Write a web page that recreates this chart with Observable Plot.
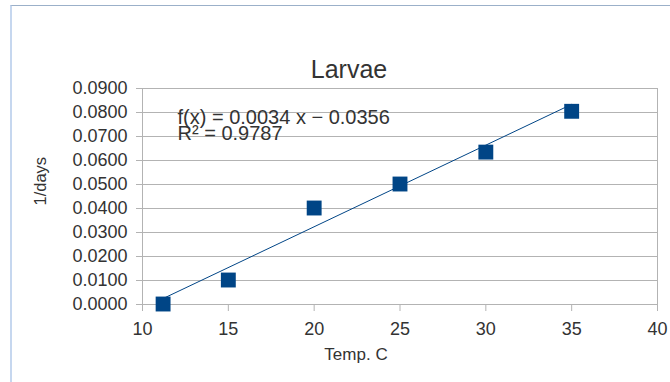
<!DOCTYPE html>
<html>
<head>
<meta charset="utf-8">
<script src="https://cdn.jsdelivr.net/npm/d3@7"></script>
<script src="https://cdn.jsdelivr.net/npm/@observablehq/plot@0.6"></script>
<style>
  html, body { margin: 0; padding: 0; background: #fff; }
  #wrap { position: relative; width: 670px; height: 382px; overflow: hidden; }
  #edge {
    position: absolute; left: 10px; top: 5px; right: 0; bottom: 0;
    border-left: 2px solid #c6d7ef; border-top: 1px solid #9bb0c9;
    pointer-events: none;
  }
  svg { display: block; font-family: "Liberation Sans", Arial, sans-serif; }
</style>
</head>
<body>
<div id="wrap"><div id="edge"></div></div>
<script>
// Development rate of larvae against rearing temperature
const temps = [11.2, 15, 20, 25, 30, 35];
const rates = [0.0002, 0.0102, 0.0402, 0.0502, 0.0635, 0.0805];

// Linear trend line as reported: f(x) = 0.0034 x − 0.0356, R² = 0.9787
const slope = 0.0034;
const intercept = -0.0356;
const rSquared = 0.9787;

const xTicks = [10, 15, 20, 25, 30, 35, 40];
const yTicks = [0, 0.01, 0.02, 0.03, 0.04, 0.05, 0.06, 0.07, 0.08, 0.09];

const points = temps.map((t, i) => ({temp: t, rate: rates[i]}));
const xMin = d3.min(temps), xMax = d3.max(temps);
const trend = [xMin, xMax].map(t => ({temp: t, rate: slope * t + intercept}));

const grey = "#b3b3b3";
const ink = "#333333";
const blue = "#004586";

const chart = Plot.plot({
  width: 670,
  height: 382,
  marginLeft: 142,
  marginRight: 13,
  marginTop: 88,
  marginBottom: 78,
  style: {fontFamily: "Liberation Sans, Arial, sans-serif", color: ink, background: "transparent"},
  x: {domain: [10, 40]},
  y: {domain: [0, 0.09]},
  marks: [
    Plot.gridY(yTicks, {stroke: grey, strokeOpacity: 1, strokeWidth: 1}),
    Plot.ruleX([10, 40], {y1: 0, y2: 0.09, stroke: grey, strokeWidth: 1}),
    Plot.axisY(yTicks, {
      tickSize: 6, tickPadding: 9, stroke: grey, fill: ink,
      fontSize: 18, tickFormat: d3.format(".4f"), label: null
    }),
    Plot.axisX(xTicks, {
      tickSize: 7, tickPadding: 11, stroke: grey, fill: ink,
      fontSize: 18, tickFormat: d => d, label: null
    }),
    Plot.line(trend, {x: "temp", y: "rate", stroke: blue, strokeWidth: 1}),
    Plot.dot(points, {x: "temp", y: "rate", symbol: "square", r: 8.4, fill: blue, stroke: "none"}),
    Plot.text([`f(x) = ${slope.toFixed(4)} x − ${Math.abs(intercept).toFixed(4)}\nR² = ${rSquared.toFixed(4)}`], {
      frameAnchor: "top-left", textAnchor: "start", lineAnchor: "top",
      dx: 35, dy: 23.5, fontSize: 20, lineHeight: 0.83, fill: ink
    }),
    Plot.text(["Larvae"], {
      frameAnchor: "top", dx: -51, dy: -28, fontSize: 25, fill: ink
    }),
    Plot.text(["Temp. C"], {
      frameAnchor: "bottom", dx: -44, dy: 55, fontSize: 17, fill: ink
    }),
    Plot.text(["1/days"], {
      frameAnchor: "left", rotate: -90, dx: -102, dy: 9, fontSize: 16.5, fill: ink
    })
  ]
});

document.getElementById("wrap").insertBefore(chart, document.getElementById("edge"));
</script>
</body>
</html>
